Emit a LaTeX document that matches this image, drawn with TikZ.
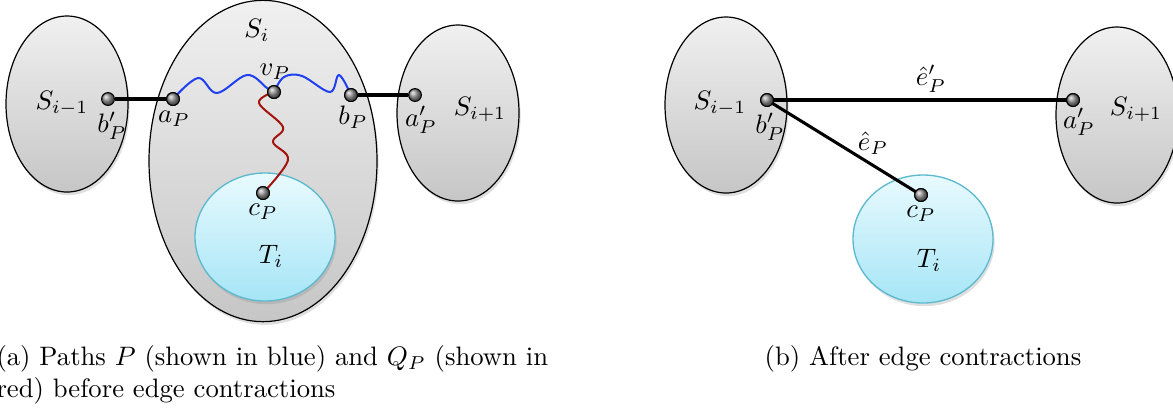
\documentclass[tikz,border=0pt]{standalone}
\usepackage{tikz}
\usetikzlibrary{positioning, shapes.geometric, shadows}
\definecolor{setTop}{HTML}{F0F0F0}
\definecolor{setBottom}{HTML}{C6C6C6}
\definecolor{treeTop}{HTML}{E8FAFE}
\definecolor{treeBottom}{HTML}{A6E5F6}
\definecolor{treeEdge}{HTML}{5CB9CE}
\definecolor{pathBlue}{HTML}{1E40F0}
\definecolor{pathRed}{HTML}{A3140C}

\tikzset{
  setblob/.style={ellipse, draw=black, line width=0.45pt, inner sep=0pt,
    top color=setTop, bottom color=setBottom,
    drop shadow={shadow xshift=0.6pt, shadow yshift=-1.2pt, opacity=0.25}},
  treeblob/.style={ellipse, draw=treeEdge, line width=0.5pt, inner sep=0pt,
    top color=treeTop, bottom color=treeBottom,
    minimum width=52.5pt, minimum height=48pt,
    drop shadow={shadow xshift=0.6pt, shadow yshift=-1.2pt, opacity=0.25}},
  vtx/.style={circle, draw=black, line width=0.4pt, ball color=gray!85,
    inner sep=0pt, minimum size=4.8pt},
  edgeline/.style={line width=1.15pt},
  bluewave/.style={pathBlue, line width=0.75pt},
  redwave/.style={pathRed, line width=0.75pt},
  lbl/.style={inner sep=1pt}
}

\begin{document}
\begin{tikzpicture}[x=0.375pt, y=0.375pt]
  \useasboundingbox (0,0) rectangle (1173,-413);

  % (a) conjuntos
  \node[setblob, minimum width=45.75pt, minimum height=66pt] (aSprev) at (67,-104) {};
  \node[setblob, minimum width=85.5pt, minimum height=120.5pt] (aSi) at (263,-161) {};
  \node[setblob, minimum width=45.75pt, minimum height=66pt] (aSnext) at (458,-113) {};
  \node[treeblob] (aTi) at (265,-237) {};

  % (a) vertices
  \node[vtx] (abP) at (108,-99) {};
  \node[vtx] (aaP) at (173,-99) {};
  \node[vtx] (avP) at (274,-92) {};
  \node[vtx] (abbP) at (351,-95) {};
  \node[vtx] (aaaP) at (415,-95) {};
  \node[vtx] (acP) at (263,-193) {};

  % (a) aristas y caminos
  \draw[edgeline] (abP) -- (aaP);
  \draw[edgeline] (abbP) -- (aaaP);
  \draw[bluewave] plot[smooth, tension=0.6] coordinates
    {(aaP.center) (198,-78) (217,-93) (247,-75) (267,-88) (avP.center)};
  \draw[bluewave] plot[smooth, tension=0.6] coordinates
    {(avP.center) (284,-77) (302,-76) (330,-92) (339,-75) (abbP.center)};
  \draw[redwave] plot[smooth, tension=0.6] coordinates
    {(avP.center) (259,-103) (283,-127) (273,-142) (288,-160) (acP.center)};
  \node[vtx] at (avP) {};
  \node[vtx] at (aaP) {};
  \node[vtx] at (abbP) {};
  \node[vtx] at (acP) {};

  % (a) etiquetas
  \node[lbl] (laSi) at (257,-30) {$S_i$};
  \node[lbl] (laSprev) at (62,-103) {$S_{i-1}$};
  \node[lbl] (laSnext) at (480,-109) {$S_{i+1}$};
  \node[lbl] (labP) at (112,-126) {$b'_P$};
  \node[lbl] (laaP) at (174,-119) {$a_P$};
  \node[lbl] (lavP) at (275,-72) {$v_P$};
  \node[lbl] (labbP) at (353,-117) {$b_P$};
  \node[lbl] (laaaP) at (421,-120) {$a'_P$};
  \node[lbl] (lacP) at (263,-212) {$c_P$};
  \node[lbl] (laTi) at (271,-256) {$T_i$};

  % (b) conjuntos
  \node[setblob, minimum width=45.75pt, minimum height=66pt] (bSprev) at (726,-105) {};
  \node[setblob, minimum width=45.75pt, minimum height=66pt] (bSnext) at (1117,-115) {};
  \node[treeblob] (bTi) at (923,-239) {};

  % (b) vertices y aristas
  \node[vtx] (bbP) at (767,-100) {};
  \node[vtx] (baaP) at (1073,-100) {};
  \node[vtx] (bcP) at (921,-195) {};
  \draw[edgeline] (bbP.center) -- (baaP.center);
  \draw[edgeline] (bbP.center) -- (bcP.center);
  \node[vtx] at (bbP) {};
  \node[vtx] at (baaP) {};
  \node[vtx] at (bcP) {};

  % (b) etiquetas
  \node[lbl] (lbSprev) at (720,-103) {$S_{i-1}$};
  \node[lbl] (lbSnext) at (1136,-109) {$S_{i+1}$};
  \node[lbl] (lbbP) at (770,-127) {$b'_P$};
  \node[lbl] (lbaaP) at (1079,-122) {$a'_P$};
  \node[lbl] (lbcP) at (921,-214) {$c_P$};
  \node[lbl] (lbTi) at (929,-260) {$T_i$};
  \node[lbl] (lbeP) at (873,-143) {$\hat e_P$};
  \node[lbl] (lbeeP) at (931,-79) {$\hat e'_P$};

  % leyendas
  \node[anchor=north west, align=left, inner sep=0pt] (capa) at (-4,-345)
    {(a) Paths $P$ (shown in blue) and $Q_P$ (shown in\\red) before edge contractions};
  \node[anchor=north, inner sep=0pt] (capb) at (923,-345) {(b) After edge contractions};
\end{tikzpicture}
\end{document}
